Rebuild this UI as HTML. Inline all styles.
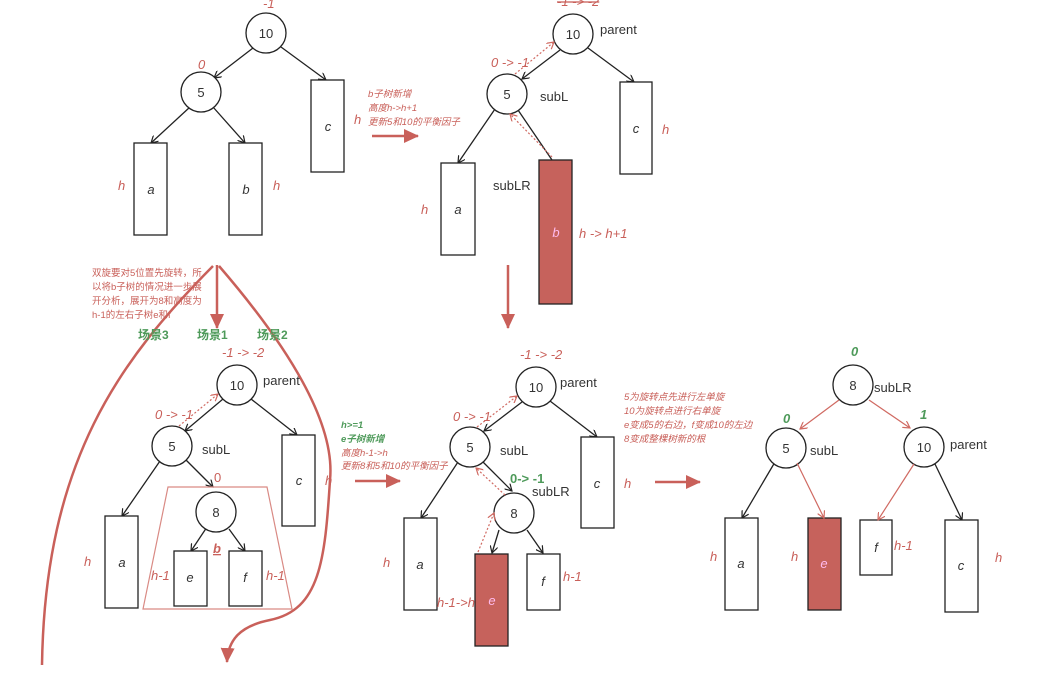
<!DOCTYPE html>
<html><head><meta charset="utf-8"><style>
html,body{margin:0;padding:0;background:#fff;}
svg{display:block;}
text{font-family:"Liberation Sans","Noto Sans CJK SC",sans-serif;}
.n{font-size:13px;fill:#333;text-anchor:middle;}
.lb{font-size:13px;fill:#333;}
.it{font-style:italic;font-size:13px;fill:#333;text-anchor:middle;}
.r{fill:#c9605a;font-style:italic;font-size:13px;}
.rs{fill:#c9605a;font-style:italic;font-size:9.5px;}
.g{fill:#4e9a5a;font-weight:bold;font-size:12px;}
.gi{fill:#4e9a5a;font-weight:bold;font-style:italic;font-size:13px;}
</style></head><body>
<svg width="1039" height="674" viewBox="0 0 1039 674" xmlns="http://www.w3.org/2000/svg">
<defs>
<marker id="k" markerWidth="8" markerHeight="8" refX="7" refY="4" orient="auto" markerUnits="userSpaceOnUse"><path d="M0,0 L7,4 L0,8" fill="none" stroke="#222" stroke-width="1.2"/></marker>
<marker id="rk" markerWidth="8" markerHeight="8" refX="7" refY="4" orient="auto" markerUnits="userSpaceOnUse"><path d="M0,0 L7,4 L0,8" fill="none" stroke="#d06a62" stroke-width="1.2"/></marker>
<marker id="big" markerWidth="16" markerHeight="14" refX="14" refY="7" orient="auto" markerUnits="userSpaceOnUse"><path d="M0,0 L15,7 L0,14 Z" fill="#c9605a"/></marker>
</defs>
<g stroke="#222" stroke-width="1.3" fill="#fff">
<!-- tree1 -->
<line x1="253" y1="48" x2="214" y2="78" marker-end="url(#k)"/>
<line x1="281" y1="47" x2="326" y2="80" marker-end="url(#k)"/>
<line x1="190" y1="107" x2="151" y2="143" marker-end="url(#k)"/>
<line x1="213" y1="107" x2="245" y2="143" marker-end="url(#k)"/>
<circle cx="266" cy="33" r="20"/><circle cx="201" cy="92" r="20"/>
<rect x="311" y="80" width="33" height="92"/><rect x="134" y="143" width="33" height="92"/><rect x="229" y="143" width="33" height="92"/>
<!-- tree2 -->
<line x1="560" y1="50" x2="522" y2="79" marker-end="url(#k)"/>
<line x1="588" y1="48" x2="634" y2="82" marker-end="url(#k)"/>
<line x1="495" y1="109" x2="458" y2="163" marker-end="url(#k)"/>
<line x1="518" y1="110" x2="552" y2="160"/>
<circle cx="573" cy="34" r="20"/><circle cx="507" cy="94" r="20"/>
<rect x="620" y="82" width="32" height="92"/><rect x="441" y="163" width="34" height="92"/>
<rect x="539" y="160" width="33" height="144" fill="#c6625c"/>
<!-- tree3 -->
<line x1="223" y1="399" x2="185" y2="431" marker-end="url(#k)"/>
<line x1="251" y1="399" x2="297" y2="435" marker-end="url(#k)"/>
<line x1="160" y1="461" x2="122" y2="516" marker-end="url(#k)"/>
<line x1="186" y1="460" x2="213" y2="487" marker-end="url(#k)"/>
<line x1="207" y1="527" x2="191" y2="551" marker-end="url(#k)"/>
<line x1="229" y1="529" x2="245" y2="551" marker-end="url(#k)"/>
<circle cx="237" cy="385" r="20"/><circle cx="172" cy="446" r="20"/><circle cx="216" cy="512" r="20"/>
<rect x="282" y="435" width="33" height="91"/><rect x="105" y="516" width="33" height="92"/>
<rect x="174" y="551" width="33" height="55"/><rect x="229" y="551" width="33" height="55"/>
<!-- tree4 -->
<line x1="522" y1="402" x2="484" y2="431" marker-end="url(#k)"/>
<line x1="550" y1="401" x2="597" y2="437" marker-end="url(#k)"/>
<line x1="458" y1="462" x2="421" y2="518" marker-end="url(#k)"/>
<line x1="483" y1="462" x2="512" y2="491" marker-end="url(#k)"/>
<line x1="499" y1="530" x2="492" y2="553" marker-end="url(#k)"/>
<line x1="527" y1="530" x2="543" y2="553" marker-end="url(#k)"/>
<circle cx="536" cy="387" r="20"/><circle cx="470" cy="447" r="20"/><circle cx="514" cy="513" r="20"/>
<rect x="581" y="437" width="33" height="91"/><rect x="404" y="518" width="33" height="92"/>
<rect x="475" y="554" width="33" height="92" fill="#c6625c"/><rect x="527" y="554" width="33" height="56"/>
<!-- tree5 -->
<line x1="934" y1="462" x2="962" y2="520" marker-end="url(#k)"/>
<line x1="775" y1="462" x2="742" y2="518" marker-end="url(#k)"/>
<circle cx="853" cy="385" r="20"/><circle cx="786" cy="448" r="20"/><circle cx="924" cy="447" r="20"/>
<rect x="725" y="518" width="33" height="92"/><rect x="808" y="518" width="33" height="92" fill="#c6625c"/>
<rect x="860" y="520" width="32" height="55"/><rect x="945" y="520" width="33" height="92"/>
</g>
<!-- red connectors tree5 -->
<g stroke="#d06a62" stroke-width="1.2" fill="none">
<line x1="839" y1="400" x2="800" y2="429" marker-end="url(#rk)"/>
<line x1="869" y1="400" x2="910" y2="428" marker-end="url(#rk)"/>
<line x1="797" y1="463" x2="824" y2="518" marker-end="url(#rk)"/>
<line x1="914" y1="464" x2="878" y2="520" marker-end="url(#rk)"/>
<polygon points="168,487 267,487 292,609 143,609" stroke="#d98a84"/>
</g>
<!-- dotted -->
<g stroke="#d06a62" stroke-width="1.2" fill="none" stroke-dasharray="2,2">
<line x1="515" y1="74" x2="554" y2="42" marker-end="url(#rk)"/>
<line x1="552" y1="157" x2="510" y2="114" marker-end="url(#rk)"/>
<line x1="179" y1="426" x2="218" y2="394" marker-end="url(#rk)"/>
<line x1="477" y1="427" x2="517" y2="396" marker-end="url(#rk)"/>
<line x1="505" y1="495" x2="476" y2="468" marker-end="url(#rk)"/>
<line x1="478" y1="552" x2="494" y2="513" marker-end="url(#rk)"/>
</g>
<!-- big red arrows -->
<g stroke="#c9605a" stroke-width="2.5" fill="none">
<line x1="372" y1="136" x2="418" y2="136" marker-end="url(#big)"/>
<line x1="508" y1="265" x2="508" y2="328" marker-end="url(#big)"/>
<line x1="217" y1="265" x2="217" y2="328" marker-end="url(#big)"/>
<line x1="355" y1="481" x2="400" y2="481" marker-end="url(#big)"/>
<line x1="655" y1="482" x2="700" y2="482" marker-end="url(#big)"/>
<path d="M213,266 C120,360 45,460 42,665"/>
<path d="M219,266 C300,360 335,430 330,480 C325,560 320,610 270,620 C240,626 228,640 227,662" marker-end="url(#big)"/>
</g>
<!-- node text -->
<text class="n" x="266" y="38">10</text><text class="n" x="201" y="97">5</text>
<text class="n" x="573" y="39">10</text><text class="n" x="507" y="99">5</text>
<text class="n" x="237" y="390">10</text><text class="n" x="172" y="451">5</text><text class="n" x="216" y="517">8</text>
<text class="n" x="536" y="392">10</text><text class="n" x="470" y="452">5</text><text class="n" x="514" y="518">8</text>
<text class="n" x="853" y="390">8</text><text class="n" x="786" y="453">5</text><text class="n" x="924" y="452">10</text>
<text class="it" x="328" y="131">c</text><text class="it" x="151" y="194">a</text><text class="it" x="246" y="194">b</text>
<text class="it" x="636" y="133">c</text><text class="it" x="458" y="214">a</text><text class="it" x="556" y="237" fill="#fff" style="fill:#fbe">b</text>
<text class="it" x="299" y="485">c</text><text class="it" x="122" y="567">a</text><text class="it" x="190" y="582">e</text><text class="it" x="245" y="582">f</text>
<text class="it" x="597" y="488">c</text><text class="it" x="420" y="569">a</text><text class="it" x="492" y="605" style="fill:#fbe">e</text><text class="it" x="543" y="586">f</text>
<text class="it" x="741" y="568">a</text><text class="it" x="824" y="568" style="fill:#fbe">e</text><text class="it" x="876" y="552">f</text><text class="it" x="961" y="570">c</text>
<!-- labels -->
<text class="lb" x="600" y="34">parent</text><text class="lb" x="540" y="101">subL</text><text class="lb" x="493" y="190">subLR</text>
<text class="lb" x="263" y="385">parent</text><text class="lb" x="202" y="454">subL</text>
<text class="lb" x="560" y="387">parent</text><text class="lb" x="500" y="455">subL</text><text class="lb" x="532" y="496">subLR</text>
<text class="lb" x="874" y="392">subLR</text><text class="lb" x="810" y="455">subL</text><text class="lb" x="950" y="449">parent</text>
<!-- red italics -->
<text class="r" x="263" y="8">-1</text><text class="r" x="198" y="69">0</text>
<text class="r" x="354" y="124">h</text><text class="r" x="118" y="190">h</text><text class="r" x="273" y="190">h</text>
<text class="r" x="557" y="6" text-decoration="line-through">-1 -&gt; -2</text>
<text class="r" x="491" y="67">0 -&gt; -1</text>
<text class="r" x="662" y="134">h</text><text class="r" x="421" y="214">h</text>
<text class="r" x="579" y="238">h -&gt; h+1</text>
<text class="rs" x="368" y="97">b子树新增</text><text class="rs" x="368" y="111">高度h-&gt;h+1</text><text class="rs" x="368" y="125">更新5和10的平衡因子</text>
<text class="rs" x="92" y="276" style="font-style:normal">双旋要对5位置先旋转，所</text>
<text class="rs" x="92" y="290" style="font-style:normal">以将b子树的情况进一步展</text>
<text class="rs" x="92" y="304" style="font-style:normal">开分析，展开为8和高度为</text>
<text class="rs" x="92" y="318" style="font-style:normal">h-1的左右子树e和f</text>
<text class="g" x="138" y="339">场景3</text><text class="g" x="197" y="339">场景1</text><text class="g" x="257" y="339">场景2</text>
<text class="r" x="222" y="357">-1 -&gt; -2</text><text class="r" x="155" y="419">0 -&gt; -1</text>
<text class="r" x="214" y="482" style="font-style:normal">0</text>
<text class="r" x="325" y="485">h</text><text class="r" x="84" y="566">h</text>
<text class="r" x="151" y="580">h-1</text><text class="r" x="266" y="580">h-1</text>
<text class="r" x="213" y="553" text-decoration="underline" style="font-weight:bold">b</text>
<text class="gi" x="341" y="428" style="font-size:9.5px">h&gt;=1</text>
<text class="gi" x="341" y="442" style="font-size:9.5px">e子树新增</text>
<text class="rs" x="341" y="456">高度h-1-&gt;h</text><text class="rs" x="341" y="469">更新8和5和10的平衡因子</text>
<text class="r" x="520" y="359">-1 -&gt; -2</text><text class="r" x="453" y="421">0 -&gt; -1</text>
<text class="gi" x="510" y="483" style="font-style:normal">0-&gt; -1</text>
<text class="r" x="624" y="488">h</text><text class="r" x="383" y="567">h</text>
<text class="r" x="437" y="607">h-1-&gt;h</text><text class="r" x="563" y="581">h-1</text>
<text class="rs" x="624" y="400">5为旋转点先进行左单旋</text><text class="rs" x="624" y="414">10为旋转点进行右单旋</text>
<text class="rs" x="624" y="428">e变成5的右边，f变成10的左边</text><text class="rs" x="624" y="442">8变成整棵树新的根</text>
<text class="gi" x="851" y="356">0</text><text class="gi" x="783" y="423">0</text><text class="gi" x="920" y="419">1</text>
<text class="r" x="710" y="561">h</text><text class="r" x="791" y="561">h</text><text class="r" x="894" y="550">h-1</text><text class="r" x="995" y="562">h</text>
</svg>
</body></html>
